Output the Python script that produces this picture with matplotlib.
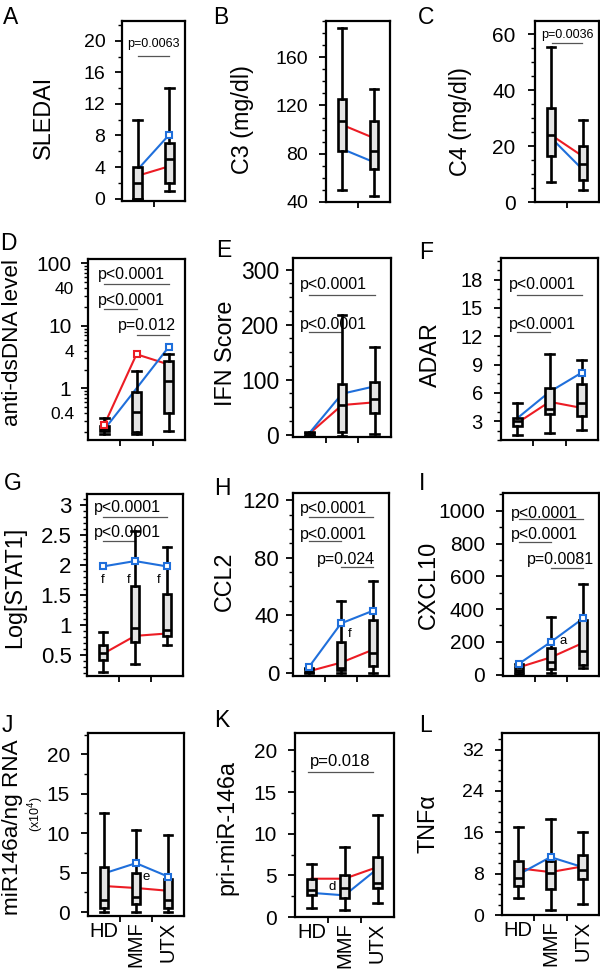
import numpy as np
import matplotlib
matplotlib.use('Agg')
import matplotlib.pyplot as plt
from matplotlib.ticker import MultipleLocator, FixedLocator, FuncFormatter

plt.rcParams['font.family'] = ['Liberation Sans', 'DejaVu Sans']

W, H = 600, 971
RED = '#ec1c24'
BLUE = '#1f6fdb'

groups2 = ['MMF', 'UTX']
groups3 = ['HD', 'MMF', 'UTX']

# five-number summaries per group: whisker low, q1, median, q3, whisker high
sledai_box = [[0, 0, 2, 4, 10], [1, 2, 5, 7, 14]]
sledai_red = [2.9, 4.1]
sledai_blue = [3.7, 8.1]
sledai_p = ['p=0.0063']

c3_box = [[50, 82, 107, 125, 184], [45, 67, 82, 107, 134]]
c3_red = [104, 93]
c3_blue = [84, 73]

c4_box = [[7, 16.5, 24, 33.6, 55.6], [4.4, 8, 13.6, 20, 29.3]]
c4_red = [24, 16.3]
c4_blue = [23, 11.5]
c4_p = ['p=0.0036']

dsdna_box = [[0.19, 0.205, 0.224, 0.247, 0.336], [0.19, 0.198, 0.415, 0.87, 1.9],
             [0.205, 0.405, 1.31, 2.7, 3.5]]
dsdna_red = [0.26, 3.5, 2.4]
dsdna_blue = [0.22, 1.0, 4.6]
dsdna_p = ['p<0.0001', 'p<0.0001', 'p=0.012']

ifn_box = [[-3, -1.5, 0.5, 3, 5], [-3, 5, 54.5, 92, 218], [1, 39, 65, 95, 159]]
ifn_red = [2, 54, 59]
ifn_blue = [3, 74.5, 88]
ifn_p = ['p<0.0001', 'p<0.0001']

adar_box = [[1.5, 2.5, 3.0, 3.35, 4.95], [1.7, 3.75, 4.3, 6.5, 10.1], [2.1, 3.5, 4.95, 6.9, 9.5]]
adar_red = [2.8, 5.05, 4.4]
adar_blue = [3.3, 6.1, 8.15]
adar_p = ['p<0.0001', 'p<0.0001']

stat1_box = [[0.21, 0.42, 0.54, 0.67, 0.89], [0.35, 0.72, 0.96, 1.66, 2.57],
             [0.66, 0.81, 0.92, 1.52, 2.3]]
stat1_red = [0.52, 0.82, 0.86]
stat1_blue = [1.98, 2.07, 1.98]
stat1_p = ['p<0.0001', 'p<0.0001']

ccl2_box = [[0, 0.5, 1.5, 2.5, 3], [0, 1.6, 3.5, 21.4, 50], [0, 4.7, 14, 37, 64]]
ccl2_red = [1, 7, 16]
ccl2_blue = [4, 34.3, 43.1]
ccl2_p = ['p<0.0001', 'p<0.0001', 'p=0.024']

cxcl10_box = [[5, 15, 30, 45, 67], [10, 33, 80, 165, 353], [41, 59, 145, 335, 551]]
cxcl10_red = [45, 106, 194]
cxcl10_blue = [67, 200, 343]
cxcl10_p = ['p<0.0001', 'p<0.0001', 'p=0.0081']

mir146_box = [[0, 0.55, 1.57, 5.7, 12.6], [0, 0.97, 1.9, 4.96, 10.4], [0, 0.55, 1.5, 4.2, 9.8]]
mir146_red = [3.3, 3.05, 2.7]
mir146_blue = [4.9, 6.2, 4.5]

primir_box = [[1.1, 2.6, 3.3, 4.6, 6.4], [0.9, 2.3, 3.5, 5.0, 8.45], [1.7, 3.5, 4.1, 7.2, 12.2]]
primir_red = [4.6, 4.6, 6.0]
primir_blue = [2.9, 2.6, 5.8]
primir_p = ['p=0.018']

tnf_box = [[3.2, 5.6, 7.1, 10.5, 17.1], [1.0, 5.0, 8.2, 10.5, 18.5], [2.1, 7.0, 8.7, 11.6, 16.0]]
tnf_red = [9.05, 8.3, 9.4]
tnf_blue = [7.8, 11.2, 9.25]

fig = plt.figure(figsize=(W / 100, H / 100), dpi=100)


def make_ax(box_px):
    l, t, r, b = box_px
    return fig.add_axes([l / W, 1 - b / H, (r - l) / W, (b - t) / H])


def draw(ax, box, red, blue, red_sq=(), blue_sq=()):
    n = len(box)
    pos = [1, 2] if n == 2 else [0, 1, 2]
    stats = [dict(whislo=s[0], q1=s[1], med=s[2], q3=s[3], whishi=s[4], fliers=[]) for s in box]
    ax.bxp(stats, positions=pos, widths=0.27, capwidths=0.27, patch_artist=True,
           showfliers=False, zorder=3,
           boxprops=dict(facecolor='#e4e4e4', edgecolor='black', linewidth=1.9),
           whiskerprops=dict(color='black', linewidth=1.9),
           capprops=dict(color='black', linewidth=1.9),
           medianprops=dict(color='black', linewidth=1.9))
    ax.plot(pos, red, color=RED, lw=1.5, zorder=2)
    ax.plot(pos, blue, color=BLUE, lw=1.5, zorder=2)
    for i in red_sq:
        ax.plot(pos[i], red[i], 's', ms=5, mfc='white', mec=RED, mew=1.5, zorder=4)
    for i in blue_sq:
        ax.plot(pos[i], blue[i], 's', ms=5, mfc='white', mec=BLUE, mew=1.5, zorder=4)
    if n == 2:
        ax.set_xlim(0.5, 2.5)
        ax.set_xticks([1.5], minor=True)
    else:
        ax.set_xlim(-0.5, 2.5)
        ax.set_xticks([0.5, 1.5], minor=True)
    ax.set_xticks(pos, labels=[''] * n)
    ax.tick_params(axis='x', which='major', length=0)
    ax.tick_params(axis='x', which='minor', direction='out', length=4.5, width=1.3)
    for s in ax.spines.values():
        s.set_linewidth(1.6)


def yaxis(ax, ylim, major, minor, fs, pad):
    ax.set_ylim(*ylim)
    if major is not None:
        ax.yaxis.set_major_locator(MultipleLocator(major))
        ax.yaxis.set_minor_locator(MultipleLocator(minor))
        ax.yaxis.set_major_formatter(FuncFormatter(lambda v, p: f'{v:g}'))
    ax.tick_params(axis='y', which='major', direction='out', length=5, width=1.3,
                   labelsize=fs, pad=pad)
    ax.tick_params(axis='y', which='minor', direction='out', length=3, width=1.0)


def ylab(ax, box_px, text, cx, cy, fs=16.8):
    l, t, r, b = box_px
    ax.set_ylabel(text, fontsize=fs)
    ax.yaxis.set_label_coords((cx - l) / (r - l), (b - cy) / (b - t))
    ax.yaxis.label.set_va('center')


def pval(ax, label, x0, x1, yline, tx, ty, fs, ha='left'):
    ax.plot([x0, x1], [yline, yline], color='#555555', lw=0.9, zorder=1)
    ax.text(tx, ty, label, fontsize=fs, ha=ha, va='center', zorder=5)


def letter(x, y, s):
    fig.text(x / W, 1 - y / H, s, fontsize=16.5, ha='left', va='top')


def bottom_labels(ax):
    ax.set_xticks([0, 1, 2], labels=groups3, fontsize=14.5)
    ax.tick_params(axis='x', which='major', pad=4)
    for lab in ax.get_xticklabels()[1:]:
        lab.set_rotation(90)


# A
bA = (122, 21, 185, 201)
ax = make_ax(bA)
draw(ax, sledai_box, sledai_red, sledai_blue, blue_sq=[1])
yaxis(ax, (-0.3, 22.5), 4, 2, 14, 7)
ylab(ax, bA, 'SLEDAI', 43, 117)
pval(ax, sledai_p[0], 1, 2, 18.1, 1.5, 19.6, 9, ha='center')
letter(3, 6, 'A')

# B
bB = (326, 21, 390, 202)
ax = make_ax(bB)
draw(ax, c3_box, c3_red, c3_blue)
yaxis(ax, (40, 190), 40, 10, 14, 8)
ylab(ax, bB, 'C3 (mg/dl)', 243, 120)
letter(213, 6, 'B')

# C
bC = (535, 21, 599, 202)
ax = make_ax(bC)
draw(ax, c4_box, c4_red, c4_blue)
yaxis(ax, (0, 64.8), 20, 5, 15, 9)
ylab(ax, bC, 'C4 (mg/dl)', 460, 121)
pval(ax, c4_p[0], 1.02, 1.98, 57.1, 1.5, 59.9, 9, ha='center')
letter(418, 6, 'C')

# D
bD = (88, 259, 185, 440)
ax = make_ax(bD)
draw(ax, dsdna_box, dsdna_red, dsdna_blue, red_sq=[0, 1], blue_sq=[2])
ax.set_yscale('log')
ax.set_ylim(0.15, 116)
ax.yaxis.set_major_locator(FixedLocator([1, 10, 100]))
ax.yaxis.set_minor_locator(FixedLocator([m * 10.0 ** k for k in (-1, 0, 1) for m in range(2, 10)]))
ax.yaxis.set_major_formatter(FuncFormatter(lambda v, p: f'{v:g}'))
ax.yaxis.set_minor_formatter(FuncFormatter(
    lambda v, p: f'{v:g}' if np.any(np.isclose(v, [0.4, 4, 40])) else ''))
ax.tick_params(axis='y', which='major', direction='out', length=5, width=1.3, labelsize=15, pad=7)
ax.tick_params(axis='y', which='minor', direction='out', length=3, width=1.0, labelsize=12.5, pad=7)
ylab(ax, bD, 'anti-dsDNA level', 13, 342, fs=16.2)
pval(ax, dsdna_p[0], 0, 2, 46, -0.2, 65, 11.5)
pval(ax, dsdna_p[1], 0, 1, 18.8, -0.2, 25.6, 11.5)
pval(ax, dsdna_p[2], 1, 2, 7, 0.44, 9.9, 11.5)
letter(0, 232, 'D')

# E
bE = (293, 258, 391, 437)
ax = make_ax(bE)
draw(ax, ifn_box, ifn_red, ifn_blue)
yaxis(ax, (-4, 321), 100, 25, 16.5, 5)
ylab(ax, bE, 'IFN Score', 225, 353)
pval(ax, ifn_p[0], 0, 2, 254, -0.29, 273, 11.5)
pval(ax, ifn_p[1], 0, 1, 187, -0.29, 200, 11.5)
letter(216, 239, 'E')

# F
bF = (501, 258, 598, 440)
ax = make_ax(bF)
draw(ax, adar_box, adar_red, adar_blue, blue_sq=[2])
yaxis(ax, (1, 20.3), 3, 1, 14.5, 8)
ylab(ax, bF, 'ADAR', 430, 355)
pval(ax, adar_p[0], 0, 2, 16.4, -0.25, 17.5, 11.5)
pval(ax, adar_p[1], 0, 1, 12.4, -0.25, 13.2, 11.5)
letter(419, 241, 'F')

# G
bG = (87, 494, 183, 676)
ax = make_ax(bG)
draw(ax, stat1_box, stat1_red, stat1_blue, blue_sq=[0, 1, 2])
yaxis(ax, (0.15, 3.19), 0.5, 0.1, 16, 6)
ylab(ax, bG, 'Log[STAT1]', 15, 587)
pval(ax, stat1_p[0], 0, 2, 2.81, -0.27, 2.96, 11.5)
pval(ax, stat1_p[1], 0, 1, 2.41, -0.27, 2.54, 11.5)
for fx in (0.0, 0.8, 1.75):
    ax.text(fx, 1.76, 'f', fontsize=9.5, ha='center', va='center')
letter(4, 472, 'G')

# H
bH = (293, 493, 389, 676)
ax = make_ax(bH)
draw(ax, ccl2_box, ccl2_red, ccl2_blue, blue_sq=[0, 1, 2])
yaxis(ax, (-2.3, 125), 40, 10, 16, 5)
ylab(ax, bH, 'CCL2', 224, 581)
pval(ax, ccl2_p[0], 0, 2, 108, -0.28, 114, 11.5)
pval(ax, ccl2_p[1], 0, 1, 91.4, -0.28, 96, 11.5)
pval(ax, ccl2_p[2], 1, 2, 73.2, 0.26, 78.6, 11.5)
ax.text(1.28, 27, 'f', fontsize=9.5, ha='center', va='center')
letter(214, 477, 'H')

# I
bI = (503, 493, 599, 676)
ax = make_ax(bI)
draw(ax, cxcl10_box, cxcl10_red, cxcl10_blue, blue_sq=[0, 1, 2])
yaxis(ax, (-8, 1108), 200, 100, 15, 8)
ylab(ax, bI, 'CXCL10', 428, 585)
pval(ax, cxcl10_p[0], 0, 2, 949, -0.25, 986, 11.5)
pval(ax, cxcl10_p[1], 0, 1, 812, -0.25, 853, 11.5)
pval(ax, cxcl10_p[2], 1, 2, 653, 0.24, 700, 11.5)
ax.text(1.375, 206, 'a', fontsize=9.5, ha='center', va='center')
letter(419, 472, 'I')

# J
bJ = (88, 733, 184, 916)
ax = make_ax(bJ)
draw(ax, mir146_box, mir146_red, mir146_blue, blue_sq=[1, 2])
yaxis(ax, (-0.5, 22.7), 5, 2.5, 15, 8)
ylab(ax, bJ, 'miR146a/ng RNA', 13, 827, fs=16.2)
fig.text(36 / W, 1 - 814 / H, r'(x10$^{4}$)', fontsize=9, rotation=90, ha='center', va='center')
ax.text(1.33, 4.45, 'e', fontsize=9.5, ha='center', va='center')
bottom_labels(ax)
letter(2, 714, 'J')

# K
bK = (295, 733, 394, 917)
ax = make_ax(bK)
draw(ax, primir_box, primir_red, primir_blue)
yaxis(ax, (0, 22.1), 5, 2.5, 15, 8)
ylab(ax, bK, 'pri-miR-146a', 227, 827)
pval(ax, primir_p[0], -0.1, 1.86, 17.4, 0.88, 18.7, 12, ha='center')
ax.text(0.62, 3.6, 'd', fontsize=9.5, ha='center', va='center')
bottom_labels(ax)
letter(214, 709, 'K')

# L
bL = (502, 733, 599, 915)
ax = make_ax(bL)
draw(ax, tnf_box, tnf_red, tnf_blue, blue_sq=[1])
yaxis(ax, (0, 35.2), 8, 2, 14, 8)
ylab(ax, bL, 'TNFα', 428, 824)
bottom_labels(ax)
letter(419, 714, 'L')

fig.savefig('out.png', dpi=100, facecolor='white')
